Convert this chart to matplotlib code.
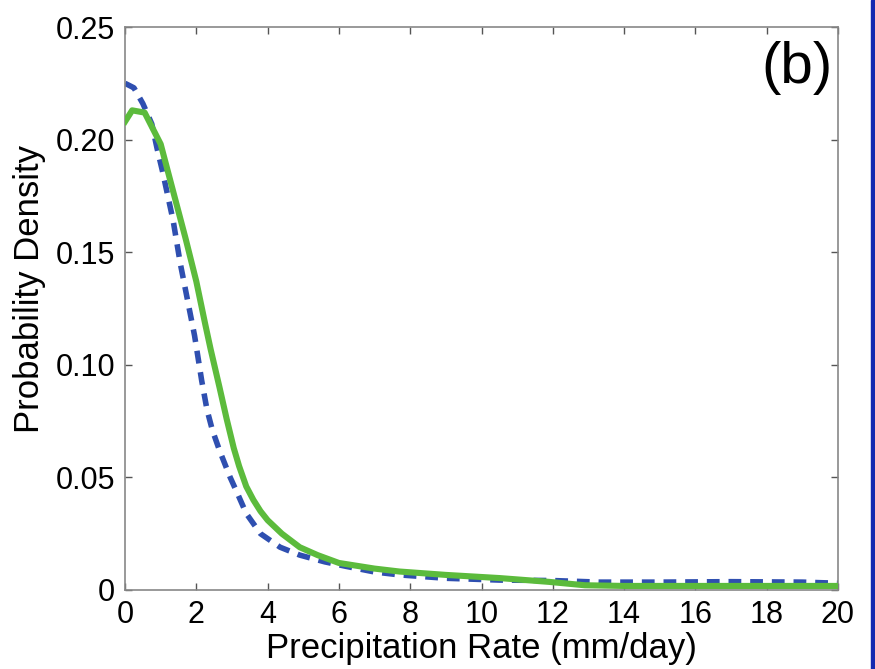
import matplotlib
matplotlib.use("Agg")
import matplotlib.pyplot as plt
from matplotlib.patches import Rectangle

# green solid curve
x_green = [0, 0.2, 0.55, 1.0, 1.35, 1.7, 2.0, 2.25, 2.4, 2.65, 2.85, 3.05, 3.2, 3.4,
           3.6, 3.8, 4.0, 4.4, 4.9, 5.4, 6.0, 7.0, 7.7, 9.0, 10.5, 11.9, 12.9, 14,
           16, 18, 20]
green = [0.208, 0.213, 0.212, 0.198, 0.177, 0.156, 0.137, 0.118, 0.107, 0.090,
         0.076, 0.063, 0.055, 0.046, 0.040, 0.035, 0.031, 0.025, 0.019, 0.0155,
         0.012, 0.0095, 0.0082, 0.0067, 0.0053, 0.0036, 0.0021, 0.0018, 0.0018,
         0.0018, 0.0018]

# blue dashed curve
x_blue = [0, 0.25, 0.5, 0.75, 0.9, 1.05, 1.2, 1.35, 1.55, 1.8, 1.95, 2.15, 2.3,
          2.45, 2.65, 2.95, 3.15, 3.4, 3.8, 4.35, 4.9, 5.6, 6.2, 7.0, 7.7, 9.0,
          10.5, 12.0, 13.3, 15, 17, 19, 20]
blue = [0.225, 0.223, 0.216, 0.207, 0.196, 0.186, 0.175, 0.164, 0.145, 0.125,
        0.113, 0.093, 0.080, 0.071, 0.062, 0.050, 0.043, 0.034, 0.025, 0.019,
        0.0155, 0.0125, 0.0105, 0.008, 0.0067, 0.0052, 0.0044, 0.0042, 0.0035,
        0.0035, 0.0037, 0.0035, 0.003]

x_ticks = [0, 2, 4, 6, 8, 10, 12, 14, 16, 18, 20]
y_ticks = [0, 0.05, 0.10, 0.15, 0.20, 0.25]
y_ticklabels = ["0", "0.05", "0.10", "0.15", "0.20", "0.25"]

plt.rcParams['font.family'] = ['Liberation Sans', 'DejaVu Sans']

fig = plt.figure(figsize=(8.75, 6.69), dpi=100)
ax = fig.add_axes([0.1429, 0.1181, 0.8148, 0.8415])

ax.plot(x_blue, blue, color='#2f4fb0', lw=4.0, dashes=(2.3, 1.6), zorder=2)
ax.plot(x_green, green, color='#5cbb3c', lw=4.4, zorder=3)

ax.set_xlim(0, 20)
ax.set_ylim(0, 0.25)
ax.set_xticks(x_ticks)
ax.set_yticks(y_ticks)
ax.set_yticklabels(y_ticklabels)
ax.tick_params(direction='in', length=5, width=1, color='#555555',
               top=True, right=True, labelsize=22, pad=7)
for s in ax.spines.values():
    s.set_color('#888888')
    s.set_linewidth(1.2)

ax.set_xlabel("Precipitation Rate (mm/day)", fontsize=25, labelpad=2)
ax.set_ylabel("Probability Density", fontsize=25)
ax.yaxis.set_label_coords(-0.111, 0.535)
ax.text(0.992, 0.975, "(b)", transform=ax.transAxes, ha='right', va='top',
        fontsize=42)

# blue border strip on the right edge
fig.patches.append(Rectangle((871 / 875, 0), 4 / 875, 1, transform=fig.transFigure,
                             color='#1428b0', zorder=10))

fig.savefig("out.png", dpi=100)
